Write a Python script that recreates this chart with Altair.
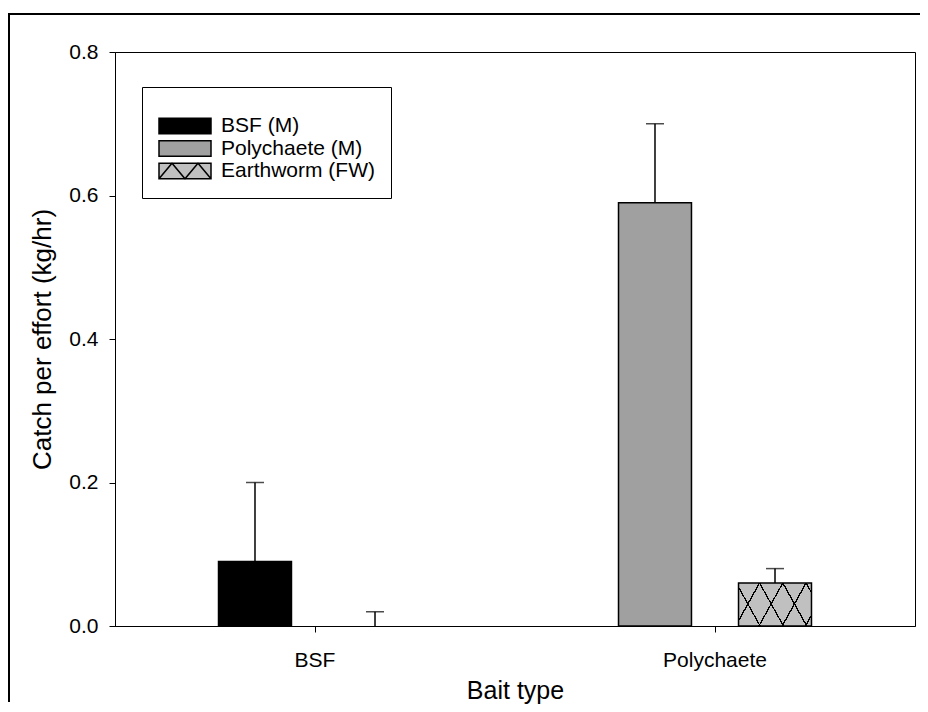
import math
import altair as alt
import pandas as pd

# ---------------- data ----------------
bait_types = ["BSF", "Polychaete"]
row_bait = ["BSF", "BSF", "Polychaete", "Polychaete"]
row_series = ["BSF (M)", "Earthworm (FW)", "Polychaete (M)", "Earthworm (FW)"]
row_slot = ["M", "FW", "M", "FW"]
cpue_mean = [0.09, 0.00, 0.59, 0.06]
cpue_upper = [0.20, 0.02, 0.70, 0.08]

series_order = ["BSF (M)", "Polychaete (M)", "Earthworm (FW)"]
series_fill = ["#000000", "#a0a0a0", "#c0c0c0"]
y_ticks = [0.0, 0.2, 0.4, 0.6, 0.8]

df = pd.DataFrame({
    "bait": row_bait,
    "series": row_series,
    "slot": row_slot,
    "cpue": cpue_mean,
    "upper": cpue_upper,
})

FONT = "Liberation Sans, Arial, sans-serif"
PLOT_W, PLOT_H = 800, 574
Y_MAX = 0.8

# ---------------- cross-hatch (two striped linear gradients) ----------------
HATCH_S = 1.8      # steepness of hatch lines
HATCH_P = 23.3     # horizontal spacing of parallel lines (px)
HATCH_X0 = 21.0    # first crossing along the bar top (px)
HATCH_LW = 1.3
BAR_W = 73.0
hatch_h = max(v for v, s in zip(cpue_mean, row_series) if s == "Earthworm (FW)") * PLOT_H / Y_MAX
K = 1.25
D = K * (HATCH_S * BAR_W + hatch_h ** 2 / (HATCH_S * BAR_W))
CLEAR = "rgba(0,0,0,0)"


def hatch_stops(c0):
    period = HATCH_S * HATCH_P
    half = HATCH_LW * math.sqrt(1 + HATCH_S ** 2) / 2
    stops = [{"offset": 0, "color": CLEAR}]
    for n in range(-20, 40):
        c = c0 + n * period
        o1, o2 = (c - half) / D, (c + half) / D
        if o2 <= 0 or o1 >= 1:
            continue
        o1 = round(max(o1, 0.0), 5)
        o2 = round(min(o2, 1.0), 5)
        stops += [
            {"offset": o1, "color": CLEAR},
            {"offset": o1, "color": "black"},
            {"offset": o2, "color": "black"},
            {"offset": o2, "color": CLEAR},
        ]
    stops.append({"offset": 1, "color": CLEAR})
    return stops


slope_u = K * hatch_h / (HATCH_S * BAR_W)
grad_a = {"gradient": "linear", "x1": 0, "y1": 0, "x2": K, "y2": slope_u,
          "stops": hatch_stops(HATCH_S * HATCH_X0)}
grad_b = {"gradient": "linear", "x1": 0, "y1": 1, "x2": K, "y2": 1 - slope_u,
          "stops": hatch_stops(HATCH_S * HATCH_X0 + hatch_h)}

# legend symbol shapes (rectangles; the last one with a zig-zag)
RECT = "M-1,-0.3H1V0.3H-1Z"
ZIG = "M-1,-0.3H1V0.3H-1Z M-1,0.3L-0.5,-0.3L0,0.3L0.5,-0.3L1,0.3"
series_shape = [RECT, RECT, ZIG]
series_stroke = ["black", "black", "black"]

# ---------------- encodings ----------------
x_enc = alt.X(
    "bait:N", sort=bait_types,
    scale=alt.Scale(domain=bait_types, paddingInner=0, paddingOuter=0),
    axis=alt.Axis(title="Bait type", labelAngle=0, labelPadding=17,
                  titleX=400, titleY=64, titleBaseline="middle", titleAlign="center"),
)
xoff_enc = alt.XOffset(
    "slot:N",
    scale=alt.Scale(domain=["M", "FW"], paddingInner=0.392, paddingOuter=0.8625),
)
y_enc = alt.Y(
    "cpue:Q",
    scale=alt.Scale(domain=[0, Y_MAX], nice=False),
    axis=alt.Axis(values=y_ticks, format=".1f", title="Catch per effort (kg/hr)",
                  labelPadding=11, titleX=-73, titleY=PLOT_H / 2, titleAngle=270,
                  titleBaseline="middle", titleAlign="center", titleFontSize=26),
)

legend = alt.Legend(
    title=" ", titleFontSize=10, titlePadding=2,
    orient="none", legendX=27, legendY=35,
    padding=16, strokeColor="black", fillColor="white",
    symbolSize=2704, symbolStrokeColor="black", symbolStrokeWidth=1.5,
    symbolOpacity=1, clipHeight=22, rowPadding=0.5,
    labelFont=FONT, labelFontSize=21, labelColor="black", labelOffset=9,
)
color_enc = alt.Color("series:N", scale=alt.Scale(domain=series_order, range=series_fill),
                      legend=legend)
stroke_enc = alt.Stroke("series:N", scale=alt.Scale(domain=series_order, range=series_stroke),
                        legend=legend)
shape_enc = alt.Shape("series:N", scale=alt.Scale(domain=series_order, range=series_shape),
                      legend=legend)

base = alt.Chart(df)
earthworm = alt.datum.series == "Earthworm (FW)"

bars = base.transform_filter(alt.datum.cpue > 0).mark_bar(strokeWidth=1.5).encode(
    x=x_enc, xOffset=xoff_enc, y=y_enc, color=color_enc, stroke=stroke_enc)

hatch_a = base.transform_filter(earthworm).transform_filter(alt.datum.cpue > 0).mark_bar(
    fill=grad_a, strokeWidth=0).encode(x=x_enc, xOffset=xoff_enc, y=y_enc)
hatch_b = base.transform_filter(earthworm).transform_filter(alt.datum.cpue > 0).mark_bar(
    fill=grad_b, strokeWidth=0).encode(x=x_enc, xOffset=xoff_enc, y=y_enc)

err_rule = base.mark_rule(color="black", strokeWidth=1.5).encode(
    x=x_enc, xOffset=xoff_enc, y=alt.Y("cpue:Q"), y2="upper:Q")
err_cap = base.mark_tick(orient="horizontal", size=18, thickness=1.5, color="black").encode(
    x=x_enc, xOffset=xoff_enc, y=alt.Y("upper:Q"))

legend_layer = base.transform_filter("datum.cpue < 0").mark_point(filled=True).encode(
    x=x_enc, xOffset=xoff_enc, y=alt.Y("cpue:Q"), color=color_enc, shape=shape_enc)

one = pd.DataFrame({"k": [0]})
frame_top = alt.Chart(one).mark_rule(color="black", strokeWidth=2).encode(
    x=alt.value(-107), x2=alt.value(805), y=alt.value(-38))
frame_left = alt.Chart(one).mark_rule(color="black", strokeWidth=2).encode(
    x=alt.value(-106), y=alt.value(-39), y2=alt.value(650))

chart = alt.layer(
    bars, hatch_a, hatch_b, err_rule, err_cap, legend_layer, frame_top, frame_left
).properties(
    width=PLOT_W, height=PLOT_H,
    autosize=alt.AutoSizeParams(type="none"),
    padding={"left": 107, "top": 44, "right": 5, "bottom": 78},
).configure(font=FONT).configure_view(
    stroke="black", strokeWidth=1
).configure_axis(
    domainColor="black", domainWidth=1, tickColor="black", tickWidth=1, tickSize=6,
    labelColor="black", titleColor="black", labelFont=FONT, titleFont=FONT,
    labelFontSize=21, titleFontSize=25, titleFontWeight="normal", grid=False,
)

chart.save("out.html", embed_options={"renderer": "svg", "actions": False})
